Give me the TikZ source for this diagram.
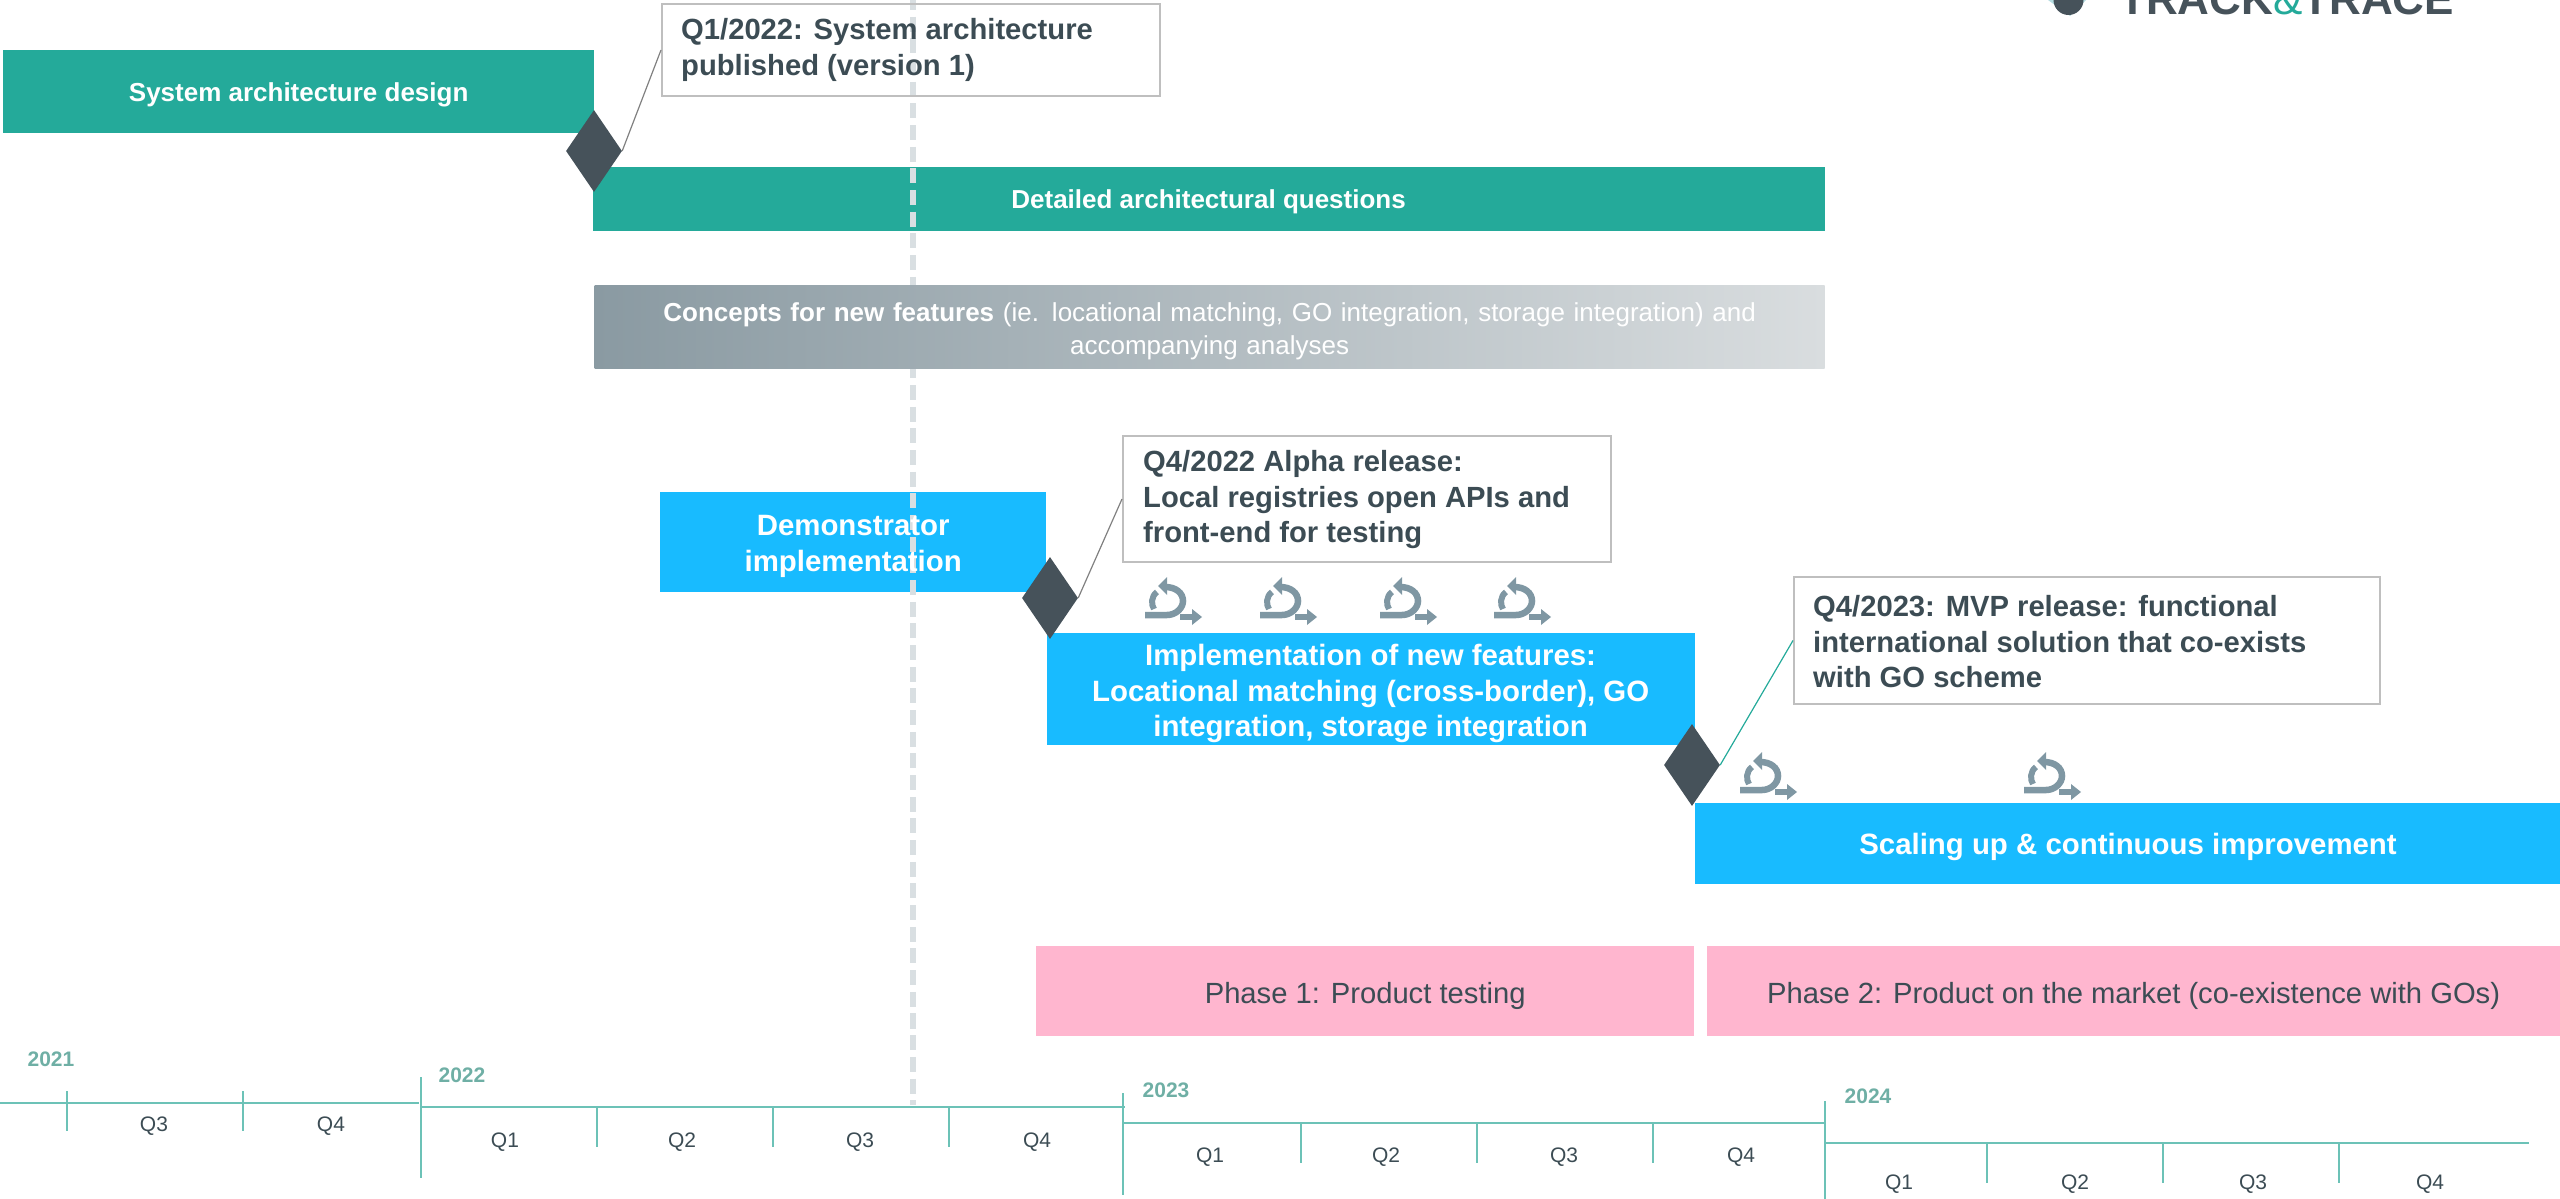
\documentclass[tikz,border=0pt]{standalone}
\usepackage{fontspec}
\setmainfont{Liberation Sans}
\usetikzlibrary{positioning,shapes.geometric}
\definecolor{bargreen}{HTML}{24AA9A}
\definecolor{barblue}{HTML}{18BBFF}
\definecolor{barpink}{HTML}{FFB6CF}
\definecolor{darkslate}{HTML}{46525A}
\definecolor{textslate}{HTML}{3C4C54}
\definecolor{axisgreen}{HTML}{6CC2B7}
\definecolor{yeargreen}{HTML}{6FAFA5}
\definecolor{loopgrey}{HTML}{7F97A3}
\definecolor{boxgrey}{HTML}{BFBFBF}
\definecolor{nowgrey}{HTML}{D9DFE2}
\definecolor{logolight}{HTML}{B5DCE0}
\definecolor{conceptleft}{HTML}{8A9AA2}
\definecolor{conceptright}{HTML}{D9DDDF}

\begin{document}
\begin{tikzpicture}[x=1pt,y=-1pt,
  bar/.style={anchor=north west,inner sep=0pt},
  bartext/.style={inner sep=0pt,align=center,text=white,font=\bfseries\fontsize{29.4}{35.5}\selectfont},
  note/.style={anchor=north west,draw=boxgrey,line width=2pt,inner sep=0pt},
  notetext/.style={anchor=north west,inner sep=0pt,align=left,text=textslate,font=\bfseries\fontsize{29.2}{35.7}\selectfont},
  milestone/.style={diamond,fill=darkslate,inner sep=0pt,minimum width=56pt,minimum height=82pt},
  qlabel/.style={text=textslate,font=\fontsize{21}{25}\selectfont,inner sep=0pt},
  yearlabel/.style={text=yeargreen,font=\bfseries\fontsize{21}{25}\selectfont,inner sep=0pt},
  axisline/.style={draw=axisgreen,line width=2.6pt},
  axistick/.style={draw=axisgreen,line width=1.4pt},
  leader/.style={draw=gray,line width=1.2pt},
  loopicon/.pic={
    \draw[loopgrey,line width=6.5pt] (0,38) -- (22,38) .. controls (31,38) and (38,31) .. (38,24) .. controls (38,16) and (31,10) .. (20,10);
    \draw[loopgrey,line width=6pt] (12,15) .. controls (6,19) and (6,28) .. (9,32);
    \fill[loopgrey] (22,0) -- (13,9) -- (22,18) -- cycle;
    \draw[loopgrey,line width=6pt] (35,40) -- (48,40);
    \fill[loopgrey] (47,32) -- (57,40) -- (47,48) -- cycle;
  }]
\useasboundingbox (0,0) rectangle (2560,1199);
\clip (0,0) rectangle (2560,1199);

\fill[logolight] (2048,0) -- (2086,0) -- (2070,16) -- cycle;
\fill[darkslate] (2068.5,0) circle (15);
\node[anchor=base west,inner sep=0pt,text=darkslate,font=\bfseries\fontsize{44}{50}\selectfont] (logo) at (2119,15) {TRACK{\color{bargreen}\mdseries\&}TRACE};

\node[bar,fill=bargreen,minimum width=591pt,minimum height=83pt] (design) at (3,50) {};
\node[bar,fill=bargreen,minimum width=1232pt,minimum height=64pt,below right=33pt and -2pt of design.south east] (questions) {};
\node[bar,fill=barblue,minimum width=386pt,minimum height=100pt] (demo) at (660,492) {};
\node[bar,fill=barblue,minimum width=648pt,minimum height=112pt,below right=40pt and 0pt of demo.south east] (impl) {};
\node[bar,fill=barblue,minimum width=866pt,minimum height=81pt,below right=58pt and 0pt of impl.south east] (scaling) {};
\node[bar,fill=barpink,minimum width=658pt,minimum height=90pt] (phaseone) at (1036,946) {};
\node[bar,fill=barpink,minimum width=854pt,minimum height=90pt,right=12pt of phaseone] (phasetwo) {};

\draw[nowgrey,line width=6pt,dash pattern=on 15pt off 6.67pt,dash phase=5pt] (913,0) -- (913,1105);

\node[bar,minimum width=1230pt,minimum height=83pt,left color=conceptleft,right color=conceptright,below=54pt of questions,xshift=1pt] (concepts) {};

\node[bartext,yshift=-3pt,font=\bfseries\fontsize{26}{31}\selectfont] (designtext) at (design.center) {System architecture design};
\node[bartext,yshift=-3pt,font=\bfseries\fontsize{26}{31}\selectfont] (questionstext) at (questions.center) {Detailed architectural questions};
\node[bartext,yshift=-4.5pt,font=\fontsize{26}{33}\selectfont,text width=1160pt] (conceptstext) at (concepts.center) {\textbf{Concepts for new features} (ie. locational matching, GO integration, storage integration) and\\accompanying analyses};
\node[bartext,yshift=-4pt] (demotext) at (demo.center) {Demonstrator\\implementation};
\node[bartext,yshift=-5pt] (impltext) at (impl.center) {Implementation of new features:\\Locational matching (cross-border), GO\\integration, storage integration};
\node[bartext,yshift=-3pt] (scalingtext) at (scaling.center) {Scaling up \& continuous improvement};
\node[bartext,yshift=-5pt,text=textslate,font=\fontsize{29.2}{35}\selectfont] (phaseonetext) at (phaseone.center) {Phase 1: Product testing};
\node[bartext,yshift=-5pt,text=textslate,font=\fontsize{29.2}{35}\selectfont] (phasetwotext) at (phasetwo.center) {Phase 2: Product on the market (co-existence with GOs)};

\node[note,minimum width=498pt,minimum height=92pt] (noteone) at (661,3) {};
\node[notetext] (noteonetext) at (681,18) {Q1/2022: System architecture\\published (version 1)};
\node[note,minimum width=488pt,minimum height=126pt] (notetwo) at (1122,435) {};
\node[notetext] (notetwotext) at (1143,450) {Q4/2022 Alpha release:\\Local registries open APIs and\\front-end for testing};
\node[note,minimum width=586pt,minimum height=127pt] (notethree) at (1793,576) {};
\node[notetext] (notethreetext) at (1813,595) {Q4/2023: MVP release: functional\\international solution that co-exists\\with GO scheme};

\node[milestone] (msone) at (594,151) {};
\node[milestone] (mstwo) at (1050,598) {};
\node[milestone] (msthree) at (1692,765) {};

\draw[leader] (msone.east) -- (noteone.west);
\draw[leader] (mstwo.east) -- (notetwo.west);
\draw[leader,draw=bargreen] (msthree.east) -- (notethree.west);

\pic (loopa) at (1145,577) {loopicon};
\pic (loopb) at (1260,577) {loopicon};
\pic (loopc) at (1380,577) {loopicon};
\pic (loopd) at (1494,577) {loopicon};
\pic (loope) at (1740,752) {loopicon};
\pic (loopf) at (2024,752) {loopicon};

\draw[axisline] (0,1103) -- (419,1103);
\draw[axisline] (421,1107) -- (1125,1107);
\draw[axisline] (1123,1123) -- (1826,1123);
\draw[axisline] (1825,1143) -- (2529,1143);

\draw[axistick] (67,1091) -- (67,1131);
\draw[axistick] (243,1091) -- (243,1131);
\draw[axistick] (421,1077) -- (421,1178);
\draw[axistick] (597,1107) -- (597,1147);
\draw[axistick] (773,1107) -- (773,1147);
\draw[axistick] (949,1107) -- (949,1147);
\draw[axistick] (1123,1093) -- (1123,1195);
\draw[axistick] (1301,1123) -- (1301,1163);
\draw[axistick] (1477,1123) -- (1477,1163);
\draw[axistick] (1653,1123) -- (1653,1163);
\draw[axistick] (1825,1101) -- (1825,1199);
\draw[axistick] (1987,1143) -- (1987,1183);
\draw[axistick] (2163,1143) -- (2163,1183);
\draw[axistick] (2339,1143) -- (2339,1183);

\node[yearlabel] (yeara) at (51,1059) {2021};
\node[yearlabel] (yearb) at (462,1075) {2022};
\node[yearlabel] (yearc) at (1166,1090) {2023};
\node[yearlabel] (yeard) at (1868,1096) {2024};

\node[qlabel] (qc21) at (154,1126) {Q3};
\node[qlabel] (qd21) at (331,1126) {Q4};
\node[qlabel] (qa22) at (505,1142) {Q1};
\node[qlabel] (qb22) at (682,1142) {Q2};
\node[qlabel] (qc22) at (860,1142) {Q3};
\node[qlabel] (qd22) at (1037,1142) {Q4};
\node[qlabel] (qa23) at (1210,1157) {Q1};
\node[qlabel] (qb23) at (1386,1157) {Q2};
\node[qlabel] (qc23) at (1564,1157) {Q3};
\node[qlabel] (qd23) at (1741,1157) {Q4};
\node[qlabel] (qa24) at (1899,1184) {Q1};
\node[qlabel] (qb24) at (2075,1184) {Q2};
\node[qlabel] (qc24) at (2253,1184) {Q3};
\node[qlabel] (qd24) at (2430,1184) {Q4};

\end{tikzpicture}
\end{document}
